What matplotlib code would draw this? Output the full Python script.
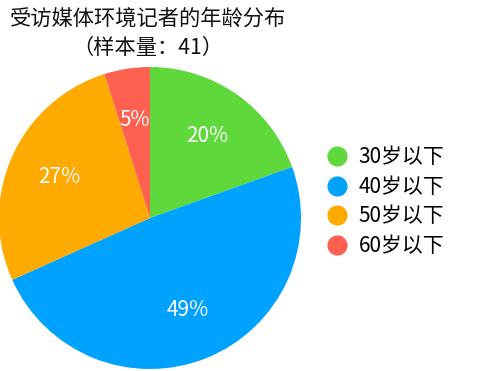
import matplotlib
matplotlib.use("Agg")
import matplotlib.pyplot as plt
from matplotlib.lines import Line2D

plt.rcParams['font.family'] = ['Noto Sans CJK SC', 'DejaVu Sans']

labels = ['30岁以下', '40岁以下', '50岁以下', '60岁以下']
counts = [8, 20, 11, 2]
colors = ['#5fd83c', '#00a2ff', '#ffaa00', '#ff6150']
title = '受访媒体环境记者的年龄分布\n（样本量：41）'

W, H = 496, 371
fig = plt.figure(figsize=(W / 100, H / 100), dpi=100)

# pie: center ~ (150, 218) px, radius ~151 px
cx, cy, r = 150, 218, 151
ax = fig.add_axes([(cx - r) / W, (H - cy - r) / H, 2 * r / W, 2 * r / H])
wedges, texts, autotexts = ax.pie(
    counts, colors=colors, startangle=90, counterclock=False,
    autopct='%1.0f%%', pctdistance=0.66, radius=1,
    wedgeprops=dict(linewidth=0),
    textprops=dict(color='white', fontsize=15),
)
ax.set_xlim(-1, 1)
ax.set_ylim(-1, 1)
ax.set_aspect('equal')
ax.axis('off')

fig.text(148 / W, 1 - 33 / H, title, ha='center', va='center',
         fontsize=15.3, linespacing=1.45, color='#111111')

handles = [Line2D([], [], marker='o', linestyle='', markersize=14.5,
                  markerfacecolor=c, markeredgewidth=0) for c in colors]
fig.legend(handles, labels, loc='upper left',
           bbox_to_anchor=(316 / W, 1 - 136 / H), frameon=False,
           fontsize=15, labelspacing=0.36, handlelength=1.0,
           handletextpad=0.55, borderpad=0)

fig.savefig('out.png', dpi=100)
